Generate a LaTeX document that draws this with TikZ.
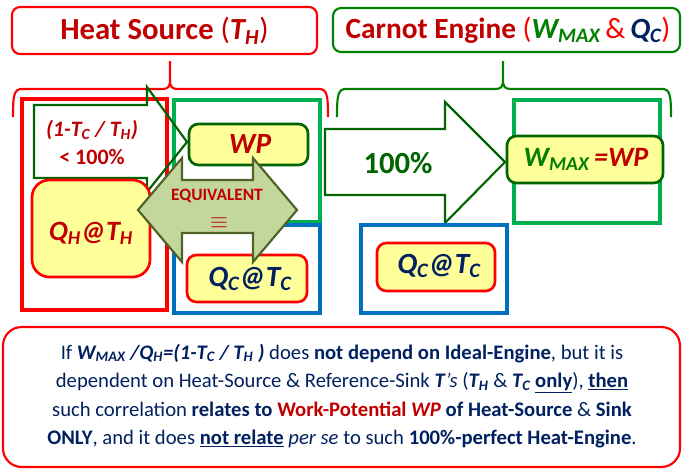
\documentclass[tikz,border=0pt]{standalone}
\usepackage{fontspec}
\setmainfont{Carlito}
\usepackage{tikz}

\definecolor{darkred}{RGB}{192,0,0}
\definecolor{srcred}{RGB}{255,0,0}
\definecolor{engreen}{RGB}{0,128,0}
\definecolor{arrowgreen}{RGB}{0,100,0}
\definecolor{wpgreen}{RGB}{0,176,80}
\definecolor{sinkblue}{RGB}{0,112,192}
\definecolor{boxyellow}{RGB}{255,255,153}
\definecolor{navy}{RGB}{0,32,96}
\definecolor{equivfill}{RGB}{195,214,155}
\definecolor{equivline}{RGB}{79,98,40}

\newcommand{\lo}[1]{\textsubscript{#1}}

\begin{document}
\begin{tikzpicture}[x=0.75pt,y=0.75pt,yscale=-1,xscale=1]
\useasboundingbox (0,0) rectangle (682,468);

%Shape: Rounded Rectangle [heat source title]
\draw  [color=srcred ,line width=1.6 ,rounded corners=6] (12,7) rectangle (317,54) ;
%Shape: Rounded Rectangle [carnot title]
\draw  [color=engreen ,line width=1.6 ,rounded corners=6] (333,8) rectangle (680,52) ;
%Shape: Brace [heat source]
\draw  [color=srcred ,line width=1.6] (13,117) .. controls (13,95) and (14,89) .. (22,89) -- (162,89) .. controls (168,89) and (170,87) .. (170,80) -- (170,61) (170,80) .. controls (170,87) and (172,89) .. (178,89) -- (319,89) .. controls (327,89) and (328,95) .. (328,117) ;
%Shape: Brace [carnot]
\draw  [color=engreen ,line width=1.6] (337,117) .. controls (337,95) and (338,89) .. (346,89) -- (495,89) .. controls (501,89) and (503,87) .. (503,80) -- (503,61) (503,80) .. controls (503,87) and (505,89) .. (511,89) -- (662,89) .. controls (670,89) and (671,95) .. (671,117) ;

%Shape: Rectangle [heat source]
\draw  [color=srcred ,line width=3] (22,99) rectangle (167,310) ;
%Shape: Rectangle [work potential]
\draw  [color=wpgreen ,line width=3] (174,100) rectangle (320,222) ;
%Shape: Rectangle [sink]
\draw  [color=sinkblue ,line width=3] (174,225) rectangle (320,313) ;
%Shape: Right Arrow [ratio]
\draw  [color=arrowgreen ,line width=1.6 ,line join=miter] (34,105) -- (147,105) -- (147,87) -- (187,142) -- (147,192) -- (147,178) -- (34,178) -- cycle ;
%Shape: Rounded Rectangle [QH]
\draw  [draw=srcred ,fill=boxyellow ,line width=2 ,rounded corners=13] (32,180) rectangle (150,277) ;
%Shape: Rounded Rectangle [WP]
\draw  [draw=arrowgreen ,fill=boxyellow ,line width=2 ,rounded corners=7] (189,124) rectangle (308,165) ;
%Shape: Rounded Rectangle [QC left]
\draw  [draw=srcred ,fill=boxyellow ,line width=2 ,rounded corners=7] (187,255) rectangle (307,302) ;
%Shape: Left-Right Arrow [equivalent]
\draw  [draw=equivline ,fill=equivfill ,line width=1.6 ,line join=miter] (138,210) -- (182,158) -- (182,180) -- (253,180) -- (253,158) -- (297,210) -- (253,262) -- (253,233) -- (182,233) -- (182,262) -- cycle ;

%Shape: Right Arrow [100%]
\draw  [color=arrowgreen ,fill=white ,line width=1.6 ,line join=miter] (325,129) -- (445,129) -- (445,102) -- (505,162) -- (445,223) -- (445,195) -- (325,195) -- cycle ;
%Shape: Rectangle [engine work]
\draw  [color=wpgreen ,line width=3] (514,100) rectangle (660,223) ;
%Shape: Rectangle [engine sink]
\draw  [color=sinkblue ,line width=3] (361,225) rectangle (507,313) ;
%Shape: Rounded Rectangle [WMAX]
\draw  [draw=arrowgreen ,fill=boxyellow ,line width=2 ,rounded corners=7] (507,136) rectangle (663,183) ;
%Shape: Rounded Rectangle [QC right]
\draw  [draw=srcred ,fill=boxyellow ,line width=2 ,rounded corners=7] (377,243) rectangle (495,291) ;

%Shape: Rounded Rectangle [statement]
\draw  [color=srcred ,line width=1.6 ,rounded corners=14] (3,327) rectangle (680,467) ;

% Text Node
\node (srctitle) at (164.5,31) [font=\fontsize{23}{28}\selectfont\bfseries ,color=darkred] {Heat Source \textmd{(}\textit{T\lo{H}}\textmd{)}};
% Text Node
\node (engtitle) at (508,30) [font=\fontsize{22}{26}\selectfont\bfseries ,color=darkred] {Carnot Engine \textcolor{srcred}{\textmd{(}}\textcolor{engreen}{\textit{W\lo{MAX}}}\,\textcolor{srcred}{\textmd{\&}}\,\textcolor{navy}{\textit{Q\lo{C}}}\textcolor{srcred}{\textmd{)}}};
% Text Node
\node (ratio) at (92,130) [font=\fontsize{16.5}{19}\selectfont\bfseries\itshape ,color=darkred] {(1-T\lo{C} / T\lo{H})};
% Text Node
\node (less) at (92,157) [font=\fontsize{16.5}{19}\selectfont\bfseries ,color=darkred] {< 100\%};
% Text Node
\node (qh) at (91,233) [font=\fontsize{21}{26}\selectfont\bfseries\itshape ,color=darkred] {Q\lo{H}@T\lo{H}};
% Text Node
\node (wp) at (250,144) [font=\fontsize{22}{26}\selectfont\bfseries\itshape ,color=darkred] {WP};
% Text Node
\node (qcleft) at (250,279) [font=\fontsize{22}{26}\selectfont\bfseries\itshape ,color=navy] {Q\lo{C}@T\lo{C}};
% Text Node
\node (equiv) at (217,196) [inner sep=0 ,font=\fontsize{13}{15}\selectfont\bfseries ,color=darkred] {EQUIVALENT};
% Text Node
\node (equivsign) at (219,223) [inner sep=0 ,font=\fontsize{17}{17}\selectfont ,color=darkred] {$\equiv$};
% Text Node
\node (hundred) at (398,163) [font=\fontsize{23}{28}\selectfont\bfseries ,color=arrowgreen] {100\%};
% Text Node
\node (wmax) at (586,159) [font=\fontsize{21}{25}\selectfont\bfseries\itshape ,color=engreen] {W\lo{MAX}\,\textcolor{darkred}{=WP}};
% Text Node
\node (qcright) at (439,266) [font=\fontsize{22}{26}\selectfont\bfseries\itshape ,color=navy] {Q\lo{C}@T\lo{C}};
% Text Node
\node (statement) at (342,396) [font=\fontsize{15.5}{21.4}\selectfont ,color=navy ,align=center] {If \textbf{\textit{W\lo{MAX} /Q\lo{H}=(1-T\lo{C} / T\lo{H} )}} does \textbf{not depend on Ideal-Engine}, but it is\\
dependent on Heat-Source \& Reference-Sink \textbf{\textit{T}}\textit{'s} (\textbf{\textit{T\lo{H}}} \& \textbf{\textit{T\lo{C}}} \underline{\textbf{only}}), \underline{\textbf{then}}\\
such correlation \textbf{relates to \textcolor{darkred}{Work-Potential \textit{WP}}} \textbf{of Heat-Source} \& \textbf{Sink}\\
\textbf{ONLY}, and it does \underline{\textbf{not relate}} \textit{per se} to such \textbf{100\%-perfect Heat-Engine}.};

\end{tikzpicture}
\end{document}
